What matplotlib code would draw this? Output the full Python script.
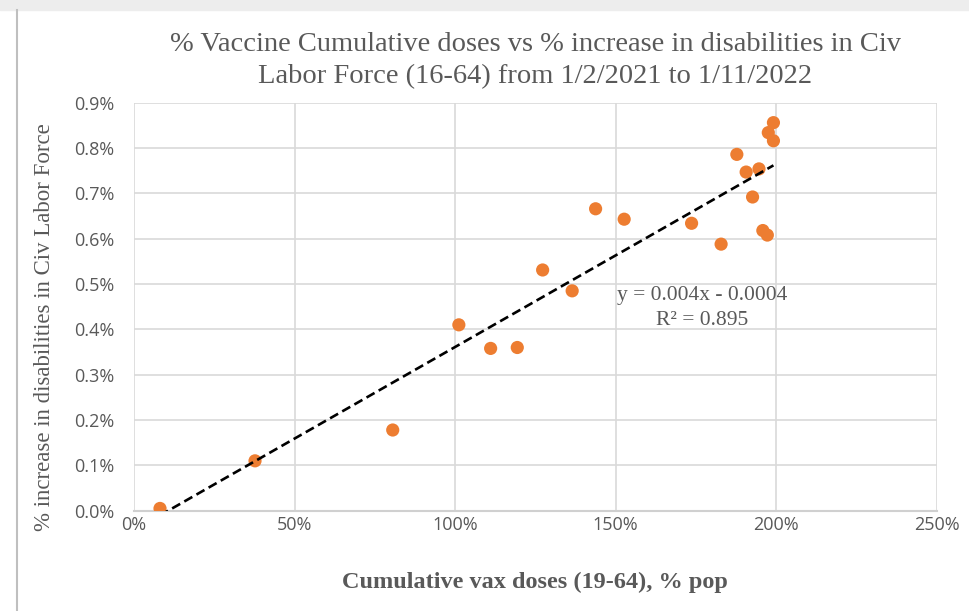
import matplotlib.pyplot as plt
from matplotlib.ticker import FuncFormatter

fig_width_pixels = 969
fig_height_pixels = 611
dpi = 100

# cumulative vax doses (19-64), % of population
vax_doses = [8.1, 37.7, 80.6, 101.2, 111.1, 119.4, 127.3, 136.5, 143.8, 152.7,
             173.7, 182.9, 187.8, 190.7, 194.7, 192.7, 195.9, 197.3, 197.6,
             199.2, 199.2]
# % increase in disabilities in civ labor force
disab_increase = [0.005, 0.110, 0.178, 0.410, 0.358, 0.360, 0.531, 0.485, 0.666,
                  0.643, 0.634, 0.588, 0.786, 0.747, 0.754, 0.692, 0.618, 0.608,
                  0.834, 0.856, 0.816]

# linear trendline as shown on the chart (x and y as fractions)
trend_slope = 0.00404
trend_icept = -0.00043
trend_label = "y = 0.004x - 0.0004\nR² = 0.895"

x_ticks = [0, 50, 100, 150, 200, 250]
y_ticks = [0.0, 0.1, 0.2, 0.3, 0.4, 0.5, 0.6, 0.7, 0.8, 0.9]

text_gray = '#595959'
serif = ['Liberation Serif', 'DejaVu Serif']
sans = ['Open Sans', 'DejaVu Sans']

fig = plt.figure(figsize=(fig_width_pixels / dpi, fig_height_pixels / dpi), dpi=dpi)

# screenshot frame bits
fig.patches.append(plt.Rectangle((0, 1 - 10 / 611), 1, 10 / 611, transform=fig.transFigure,
                                 color='#EDEDED', zorder=0))
fig.lines.append(plt.Line2D([17 / 969, 17 / 969], [0, 1 - 10 / 611], transform=fig.transFigure,
                            color='#BFBFBF', lw=1.5))

ax = fig.add_axes([134 / 969, 1 - 510.7 / 611, 802.5 / 969, 408 / 611])

ax.scatter(vax_doses, disab_increase, s=90, color='#ED7D31', edgecolors='none', zorder=3)

# trendline over the data range
x0, x1 = min(vax_doses), max(vax_doses)
tx = [x0, x1]
ty = [(trend_slope * v / 100 + trend_icept) * 100 for v in tx]
ax.plot(tx, ty, color='black', lw=1.9, dashes=(3.5, 1.8), zorder=4)

ax.text(177, 0.495, trend_label, ha='center', va='top', fontsize=15.5,
        family=serif, color=text_gray, linespacing=1.4)

ax.set_xlim(0, 250)
ax.set_ylim(0, 0.9)
ax.set_xticks(x_ticks)
ax.set_yticks(y_ticks)
ax.xaxis.set_major_formatter(FuncFormatter(lambda v, p: f"{v:.0f}%"))
ax.yaxis.set_major_formatter(FuncFormatter(lambda v, p: f"{v:.1f}%"))
ax.grid(True, color='#D9D9D9', lw=1.2)
ax.set_axisbelow(True)
for s in ['top', 'right', 'left']:
    ax.spines[s].set_visible(False)
ax.spines['bottom'].set_color('#D0D0D0')
ax.spines['bottom'].set_linewidth(1.5)
ax.tick_params(length=0, labelsize=13, labelcolor=text_gray)
ax.tick_params(axis='y', pad=14)
ax.tick_params(axis='x', pad=4)
for lab in ax.get_xticklabels() + ax.get_yticklabels():
    lab.set_family(sans)

ax.set_xlabel('Cumulative vax doses (19-64), % pop', fontsize=17.5, family=serif,
              color=text_gray, fontweight='bold', labelpad=27)
ax.set_ylabel('% increase in disabilities in Civ Labor Force', fontsize=16.5, family=serif,
              color=text_gray)
ax.yaxis.set_label_coords(-0.099, 0.45)
ax.set_title('% Vaccine Cumulative doses vs % increase in disabilities in Civ\n'
             'Labor Force (16-64) from 1/2/2021 to 1/11/2022',
             fontsize=20.5, family=serif, color=text_gray, pad=14, linespacing=1.4)

plt.savefig('out.png', dpi=dpi)
plt.close()
